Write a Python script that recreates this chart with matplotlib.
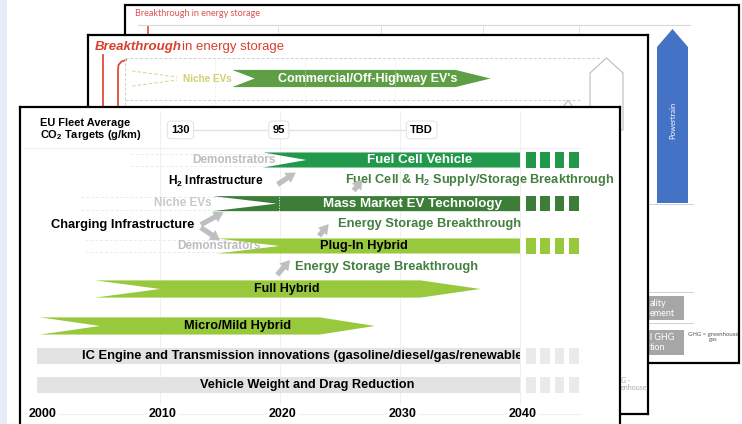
import matplotlib.pyplot as plt
from matplotlib.patches import Polygon, Rectangle, FancyArrowPatch
from matplotlib.transforms import Bbox, TransformedBbox

plt.rcParams['font.family'] = ['Liberation Sans', 'DejaVu Sans']
plt.rcParams['mathtext.fontset'] = 'custom'
plt.rcParams['mathtext.rm'] = 'Liberation Sans'
plt.rcParams['mathtext.bf'] = 'Liberation Sans:bold'

# ---- front slide: EU roadmap ----
years = [2000, 2010, 2020, 2030, 2040]
co2_years = [2011.7, 2019.9, 2031.8]
co2_targets = ['130', '95', 'TBD']

bar_names = ['Fuel Cell Vehicle', 'Mass Market EV Technology', 'Plug-In Hybrid',
             'Full Hybrid', 'Micro/Mild Hybrid',
             'IC Engine and Transmission innovations (gasoline/diesel/gas/renewables)',
             'Vehicle Weight and Drag Reduction']
bar_lane = [1, 3.03, 5, 7, 8.72, 10.12, 11.47]
bar_start = [2018.6, 2014.4, 2014.75, 2004.6, 2000, 1999.75, 1999.75]
bar_notch = [3.6, 5.3, 5.2, 5.4, 5.0, 0, 0]
bar_end = [2040, 2040, 2040, 2031.7, 2023.3, 2040, 2040]
bar_tip = [0, 0, 0, 5.0, 4.6, 0, 0]
dashed_tail = [True, True, True, False, False, True, True]
dash_years = [2040.5, 2041.7, 2042.9, 2044.1]

note_text = ['Demonstrators', r'H$_\mathbf{2}$ Infrastructure',
             r'Fuel Cell & H$_\mathbf{2}$ Supply/Storage Breakthrough', 'Niche EVs',
             'Charging Infrastructure', 'Energy Storage Breakthrough',
             'Demonstrators', 'Energy Storage Breakthrough']
note_year = [2019.6, 2010.7, 2025.4, 2014.3, 2012.9, 2024.8, 2018.4, 2021.25]
note_lane = [1, 2.02, 1.95, 3.0, 4.03, 3.98, 5.0, 6.0]

arrow_from = [(2019.6, 2.21), (2026.0, 2.53), (2023.1, 4.63), (2013.2, 4.07),
              (2013.2, 4.07), (2019.6, 6.44)]
arrow_to = [(2021.5, 1.51), (2027.0, 1.79), (2024.2, 3.88), (2015.5, 3.37),
            (2015.2, 4.81), (2021.0, 5.56)]

# ---- middle slide ----
mid_bar = "Commercial/Off-Highway EV's"
mid_start, mid_notch, mid_end, mid_tip = 2011.9, 2.5, 2036.7, 3.9

# ---- styles ----
W, H = 742, 424
DK = '#22994A'
MM = '#3C7D37'
LG = '#98C93C'
GR = '#E3E3E3'
TXT_GREEN = '#437F3F'
bar_color = [DK, MM, LG, LG, LG, GR, GR]
dash_color = [DK, MM, LG, LG, LG, '#EAEAEA', '#EAEAEA']
bar_height = [0.7, 0.7, 0.7, 0.8, 0.8, 0.75, 0.75]
bar_text_color = ['white', 'white', 'black', 'black', 'black', 'black', 'black']
bar_label_x = [2031.6, 2031.0, 2027.0, 2020.6, 2016.5, 2003.5, 2022.3]
bar_fs = [9.6, 9.6, 9.3, 9.0, 9.2, 9.3, 9.2]
note_ha = ['right', 'left', 'left', 'right', 'right', 'left', 'right', 'left']
note_color = ['#BDBDBD', 'black', TXT_GREEN, '#C9C9C9', 'black', TXT_GREEN,
              '#BDBDBD', TXT_GREEN]
note_fs = [8.5, 8.6, 9.2, 8.5, 9.3, 9.3, 8.5, 9.3]

fig = plt.figure(figsize=(W / 100, H / 100), dpi=100)
bg = fig.add_axes([0, 0, 1, 1], zorder=0)
bg.set_xlim(0, W)
bg.set_ylim(H, 0)
bg.axis('off')
P = bg.transData

# back slide
bg.add_patch(Rectangle((0, 0), 7, H, fc='#E7EDF7', ec='none'))
bg.add_patch(Rectangle((125, 5), 614, 358, fc='white', ec='black', lw=1.6))
bg.text(135, 14, 'Breakthrough in energy storage', color='#D9534F', fontsize=6.5,
        family='Lato', va='center')
bg.plot([138, 690], [25, 25], color='#D6D6D6', lw=0.8)
for x in [278, 381, 483, 579]:
    bg.plot([x, x], [25, 200], color='#E2E2E2', lw=0.7)
bg.plot([148, 148], [27, 100], color='#E04A3A', lw=1.2)
bg.add_patch(Polygon([(657, 47), (672.5, 29), (688, 47), (688, 203), (657, 203)],
                     fc='#4472C4', ec='none'))
bg.text(672.5, 120, 'Powertrain', color='white', fontsize=5.5, rotation=90,
        ha='center', va='center', family='Lato')
for y in [204, 292, 323]:
    bg.plot([648, 693], [y, y], color='#D0D0D0', lw=0.7)
bg.add_patch(Rectangle((640, 296), 44, 24, fc='#A6A6A6', ec='none'))
bg.add_patch(Rectangle((640, 330), 44, 25, fc='#A6A6A6', ec='none'))
for s, y in [('ality', 303), ('ement', 314), ('l GHG', 337), ('tion', 348)]:
    bg.text(650, y, s, color='white', fontsize=6.5, family='Lato', va='center')
bg.text(713, 337, 'GHG = greenhouse\ngas', color='#555555', fontsize=4.3,
        family='Lato', ha='center', va='center', linespacing=1.0)

# middle slide
mid = fig.add_axes([88 / W, (H - 414) / H, 560 / W, 379 / H], zorder=1)
mid.set_xlim(1995.89, 2058.1)
mid.set_ylim(16.6, -1.023)
mid.set_xticks([])
mid.set_yticks([])
for sp in mid.spines.values():
    sp.set_linewidth(1.6)
mid.text(95, 47, 'Breakthrough', color='#D9412F', fontsize=9.5, fontweight='bold',
         fontstyle='italic', va='center', transform=P)
mid.text(182, 47, 'in energy storage', color='#D9412F', fontsize=9.5, va='center',
         transform=P)
mid.plot([103, 103], [55, 120], color='#E04A3A', lw=1.3, transform=P)
mid.plot([126, 121.5, 118.5, 118, 118], [60, 61.5, 65, 70, 120], color='#E04A3A',
         lw=1.3, transform=P)
mid.plot([125, 602], [58, 58], color='#CFCFCF', lw=0.7, ls=(0, (3, 2)), transform=P)
mid.plot([125, 580], [100, 100], color='#CFCFCF', lw=0.7, ls=(0, (3, 2)), transform=P)
mid.plot([125, 125], [58, 120], color='#CFCFCF', lw=0.7, ls=(0, (3, 2)), transform=P)
for y in [2010, 2020, 2030]:
    mid.plot([y, y], [0.05, 2.5], color='#E6E6C4', lw=0.6, ls=':')
mid.add_patch(Polygon([(590, 73), (606.5, 58), (623, 73), (623, 130), (590, 130)],
                      fc='white', ec='#BBBBBB', lw=0.8, transform=P))
mid.add_patch(Polygon([(560, 112), (568, 100), (576, 112), (576, 130), (560, 130)],
                      fc='white', ec='#BBBBBB', lw=0.8, transform=P))
mid.plot([2000.8, 2005.8], [0.65, 0.93], color='#DADA9A', lw=0.8, ls=(0, (3, 2)))
mid.plot([2000.8, 2005.8], [1.35, 1.07], color='#DADA9A', lw=0.8, ls=(0, (3, 2)))
mid.text(2009.2, 1, 'Niche EVs', color='#D0D16A', fontsize=7.2, fontweight='bold',
         ha='center', va='center')
h = 0.4
mid.add_patch(Polygon([(mid_start, 1 - h), (mid_end, 1 - h), (mid_end + mid_tip, 1),
                       (mid_end, 1 + h), (mid_start, 1 + h),
                       (mid_start + mid_notch, 1)], fc='#5E9E45', ec='none'))
mid.text(2027, 1, mid_bar, color='white', fontsize=9, fontweight='bold',
         ha='center', va='center')
mid.text(621, 377, 'G -\nenhouse', color='#AAAAAA', fontsize=5, family='Lato',
         va='top', linespacing=1.0, transform=P)

# front slide
ax = fig.add_axes([20 / W, 0, 600 / W, (H - 107) / H], zorder=2)
ax.set_xlim(1998.33, 2048.33)
ax.set_ylim(13.28, -1.465)
ax.set_xticks([])
ax.set_yticks([])
for sp in ax.spines.values():
    sp.set_linewidth(1.6)
ax.spines['bottom'].set_visible(False)

for y in years[1:]:
    ax.plot([y, y], [-1.3, 12.4], color='#F0F0F0', lw=0.8, zorder=0)
ax.plot([1998.7, 2045], [0.44, 0.44], color='#F0F0F0', lw=0.8, zorder=0)
ax.plot([1998.7, 2045], [12.8, 12.8], color='#EEEEEE', lw=0.8, zorder=0)

ax.text(2000, -0.4, 'EU Fleet Average\nCO$_\\mathbf{2}$ Targets (g/km)', fontsize=7.9,
        fontweight='bold', va='center', linespacing=1.0)
ax.plot(co2_years, [-0.4] * 3, color='#E2E2E2', lw=1, zorder=1)
for yr, t in zip(co2_years, co2_targets):
    ax.text(yr, -0.4, t, fontsize=8, fontweight='bold', ha='center', va='center',
            bbox=dict(boxstyle='round,pad=0.35', fc='white', ec='#DDDDDD', lw=0.6))

for i in range(len(bar_names)):
    y, s, e = bar_lane[i], bar_start[i], bar_end[i]
    h = bar_height[i] / 2
    if dashed_tail[i] and bar_notch[i] > 0:
        ax.plot([s - 11, s + 1], [y - 0.3, y - 0.3], color='#EBEBEB', lw=0.7,
                ls=(0, (3, 2)), zorder=1)
        ax.plot([s - 11, s + 1], [y + 0.3, y + 0.3], color='#EBEBEB', lw=0.7,
                ls=(0, (3, 2)), zorder=1)
    pts = [(s, y - h), (e, y - h)]
    if bar_tip[i]:
        pts.append((e + bar_tip[i], y))
    pts += [(e, y + h), (s, y + h)]
    if bar_notch[i]:
        pts.append((s + bar_notch[i], y))
    ax.add_patch(Polygon(pts, fc=bar_color[i], ec='none', zorder=3))
    if dashed_tail[i]:
        for d in dash_years:
            ax.add_patch(Rectangle((d, y - h), 0.8, 2 * h, fc=dash_color[i],
                                   ec='none', zorder=3))
    ha = 'left' if i == 5 else 'center'
    t = ax.text(bar_label_x[i], y, bar_names[i], color=bar_text_color[i],
                fontsize=bar_fs[i], fontweight='bold', ha=ha, va='center', zorder=4)
    t.set_clip_on(True)
    t.set_clip_box(TransformedBbox(Bbox([[s, y - 0.6], [e, y + 0.6]]), ax.transData))

ax.plot([2019.9, 2019.9], [2.7, 3.38], color='white', lw=0.7, ls=':', zorder=3.5)

for i in range(len(note_text)):
    ax.text(note_year[i], note_lane[i], note_text[i], color=note_color[i],
            fontsize=note_fs[i], fontweight='bold', ha=note_ha[i], va='center',
            zorder=2)

for a, b in zip(arrow_from, arrow_to):
    ax.add_patch(FancyArrowPatch(a, b, mutation_scale=5, color='#BFBFBF', lw=0,
                                 arrowstyle='simple,head_width=1.7,head_length=1.4,tail_width=0.75',
                                 zorder=2))

for y in years:
    ax.text(y + 0.2, 12.8, str(y), fontsize=9, fontweight='bold', ha='center',
            va='center', bbox=dict(boxstyle='square,pad=0.2', fc='white', ec='none'))

fig.savefig('out.png', dpi=100)
